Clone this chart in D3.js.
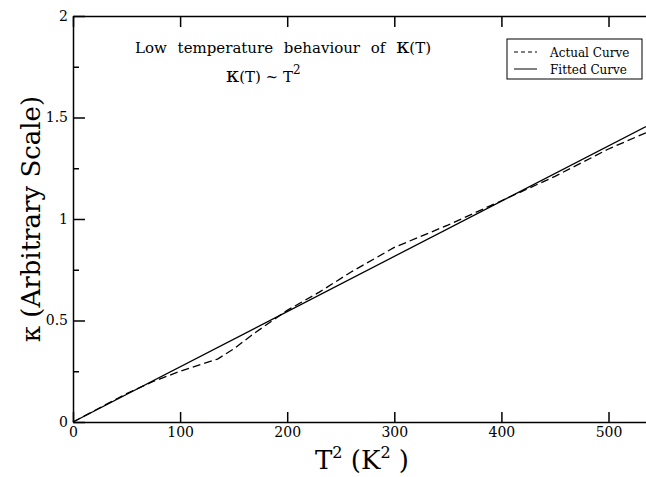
<!DOCTYPE html>
<html>
<head>
<meta charset="utf-8">
<script src="https://cdn.jsdelivr.net/npm/d3@7/dist/d3.min.js"></script>
<style>
  body { margin: 0; background: #fff; }
  svg text { fill: #000; }
  .axis path, .axis line { stroke: #000; stroke-width: 1.5; }
  .axis text { font-size: 14px; }
</style>
</head>
<body>
<div id="chart"></div>
<script>
// Data: T^2 (K^2) against kappa
const actualT2 = [0, 25, 50, 75, 100, 120, 135, 150, 170, 200, 230, 260, 300, 350, 400, 450, 500, 535];
const actualK = [0, 0.07, 0.14, 0.2, 0.25, 0.285, 0.31, 0.36, 0.44, 0.55, 0.64, 0.74, 0.86, 0.97, 1.09, 1.21, 1.345, 1.425];
const fittedT2 = [0, 535];
const fittedK = [0, 1.455];
const xTicks = [0, 100, 200, 300, 400, 500];
const yTicks = [0, 0.5, 1, 1.5, 2];
const yMinorTicks = [0.25, 0.75, 1.25, 1.75];
const yTickLabels = ["0", "0.5", "1", "1.5", "2"];
const legendLabels = ["Actual Curve", "Fitted Curve"];

const width = 646;
const height = 477;
const margin = { top: 16, right: 0, bottom: 55, left: 73 };
const serif = "DejaVu Serif";

const svg = d3
  .select("#chart")
  .append("svg")
  .attr("width", width)
  .attr("height", height)
  .attr("font-family", serif);

const x = d3.scaleLinear().domain([0, 535]).range([margin.left, width - margin.right]);
const y = d3.scaleLinear().domain([0, 2]).range([height - margin.bottom, margin.top]);

// Axes (ticks pointing inward)
svg
  .append("g")
  .attr("class", "axis")
  .attr("transform", `translate(0, ${y(0)})`)
  .call(d3.axisBottom(x).tickValues(xTicks).tickSizeInner(-10).tickSizeOuter(0).tickPadding(5))
  .attr("font-family", serif);

svg
  .append("g")
  .attr("class", "axis")
  .attr("transform", `translate(0, ${y(2)})`)
  .call(d3.axisTop(x).tickValues(xTicks).tickSizeInner(-11).tickSizeOuter(0).tickFormat(""));

svg
  .append("g")
  .attr("class", "axis")
  .attr("transform", `translate(${x(0)}, 0)`)
  .call(
    d3
      .axisLeft(y)
      .tickValues(yTicks)
      .tickSizeInner(-12)
      .tickSizeOuter(0)
      .tickPadding(5)
      .tickFormat((d, i) => yTickLabels[i])
  )
  .attr("font-family", serif);

svg
  .append("g")
  .attr("class", "axis")
  .attr("transform", `translate(${x(0)}, 0)`)
  .call(d3.axisLeft(y).tickValues(yMinorTicks).tickSizeInner(-6).tickSizeOuter(0).tickFormat(""))
  .select(".domain")
  .remove();

// Curves
const line = d3
  .line()
  .x((d) => x(d[0]))
  .y((d) => y(d[1]));

svg
  .append("path")
  .datum(fittedT2.map((t, i) => [t, fittedK[i]]))
  .attr("fill", "none")
  .attr("stroke", "#000")
  .attr("stroke-width", 1.3)
  .attr("d", line);

svg
  .append("path")
  .datum(actualT2.map((t, i) => [t, actualK[i]]))
  .attr("fill", "none")
  .attr("stroke", "#000")
  .attr("stroke-width", 1.3)
  .attr("stroke-dasharray", "8,4")
  .attr("d", line);

// Axis labels
const xLabel = svg
  .append("text")
  .attr("x", 362)
  .attr("y", 469)
  .attr("text-anchor", "middle")
  .style("font-size", "26px");
xLabel.append("tspan").text("T");
xLabel.append("tspan").attr("dy", -11).style("font-size", "16px").text("2");
xLabel.append("tspan").attr("dy", 11).text(" (K");
xLabel.append("tspan").attr("dy", -11).style("font-size", "16px").text("2");
xLabel.append("tspan").attr("dy", 11).text(" )");

svg
  .append("text")
  .attr("transform", `translate(40, ${(y(0) + y(2)) / 2}) rotate(-90)`)
  .attr("text-anchor", "middle")
  .style("font-size", "26px")
  .text("κ (Arbitrary Scale)");

// Title inside the plot
const t1 = svg
  .append("text")
  .attr("x", 135)
  .attr("y", 53)
  .style("font-size", "15px")
  .style("word-spacing", "6px");
t1.append("tspan").text("Low temperature behaviour of ");
t1.append("tspan").style("font-size", "21px").text("κ");
t1.append("tspan").text("(T)");

const t2 = svg.append("text").attr("x", 226).attr("y", 82).style("font-size", "15px");
t2.append("tspan").style("font-size", "21px").text("κ");
t2.append("tspan").text("(T) ~ T");
t2.append("tspan").attr("dy", -8).style("font-size", "12px").text("2");

// Legend
const legend = svg.append("g").attr("transform", "translate(507, 39)");
legend
  .append("rect")
  .attr("width", 135)
  .attr("height", 40)
  .attr("fill", "#fff")
  .attr("stroke", "#000")
  .attr("stroke-width", 1);

legendLabels.forEach((label, i) => {
  const yy = 13 + i * 17;
  legend
    .append("line")
    .attr("x1", 7)
    .attr("x2", 30)
    .attr("y1", yy)
    .attr("y2", yy)
    .attr("stroke", "#000")
    .attr("stroke-width", 1)
    .attr("stroke-dasharray", i === 0 ? "4,3" : null);
  legend
    .append("text")
    .attr("x", 43)
    .attr("y", yy + 4.5)
    .style("font-size", "12px")
    .text(label);
});
</script>
</body>
</html>
